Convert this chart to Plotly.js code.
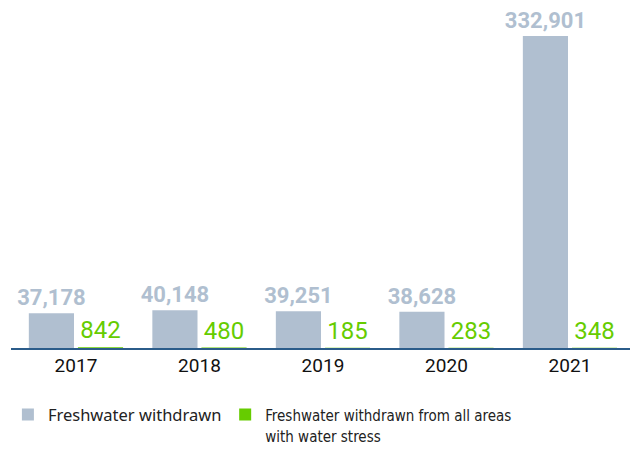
<!DOCTYPE html>
<html>
<head>
<meta charset="utf-8">
<script src="https://cdn.plot.ly/plotly-3.0.1.min.js"></script>
<style>html,body{margin:0;padding:0;background:#fff;}#chart{width:630px;height:451px;}</style>
</head>
<body>
<div id="chart"></div>
<script>
const years = ['2017', '2018', '2019', '2020', '2021'];
const freshwater = [37178, 40148, 39251, 38628, 332901];
const stressed = [842, 480, 185, 283, 348];
const seriesNames = ['Freshwater withdrawn', 'Freshwater withdrawn from all areas<br>with water stress'];

const grey = '#b0bfd0';
const green = '#66cc00';

const traces = [
  {
    type: 'bar', x: years, y: freshwater, name: seriesNames[0],
    marker: {color: grey}, legend: 'legend',
    text: freshwater.map(v => v.toLocaleString('en-US')),
    textposition: 'outside', cliponaxis: false, constraintext: 'none',
    textfont: {family: 'Roboto, sans-serif', size: 22, color: grey, weight: 'bold'},
    hoverinfo: 'none'
  },
  {
    type: 'bar', x: years, y: stressed, legend: 'legend2',
    name: '<span style="font-family:\'DejaVu Sans Condensed\';font-size:15px">' + seriesNames[1] + '</span>',
    marker: {color: green},
    text: stressed.map(v => v.toLocaleString('en-US')),
    textposition: 'outside', cliponaxis: false, constraintext: 'none',
    textfont: {family: 'Roboto, sans-serif', size: 24, color: green},
    hoverinfo: 'none'
  }
];

const legendBase = {
  orientation: 'h', xanchor: 'left', y: -0.146, yanchor: 'top',
  font: {family: 'Noto Sans, sans-serif', size: 16.5, color: '#222'},
  valign: 'top', itemclick: false, bgcolor: 'rgba(0,0,0,0)'
};

const layout = {
  width: 630, height: 451,
  margin: {l: 11, r: 0, t: 10, b: 103, autoexpand: false},
  paper_bgcolor: '#fff', plot_bgcolor: '#fff',
  barmode: 'group', bargap: 0.205, bargroupgap: 0.08,
  showlegend: true,
  legend: Object.assign({}, legendBase, {x: -0.005}),
  legend2: Object.assign({}, legendBase, {x: 0.346}),
  xaxis: {
    type: 'category', range: [-0.526, 4.486],
    showline: true, linecolor: '#2b5c8a', linewidth: 1.5,
    ticks: '', showgrid: false, zeroline: false,
    tickfont: {family: 'Roboto, sans-serif', size: 19, color: '#111'}
  },
  yaxis: {
    range: [0, 360600], visible: false, showgrid: false, zeroline: false
  },
  font: {family: 'Roboto, sans-serif'}
};

Plotly.newPlot('chart', traces, layout, {displayModeBar: false, staticPlot: true});
</script>
</body>
</html>
